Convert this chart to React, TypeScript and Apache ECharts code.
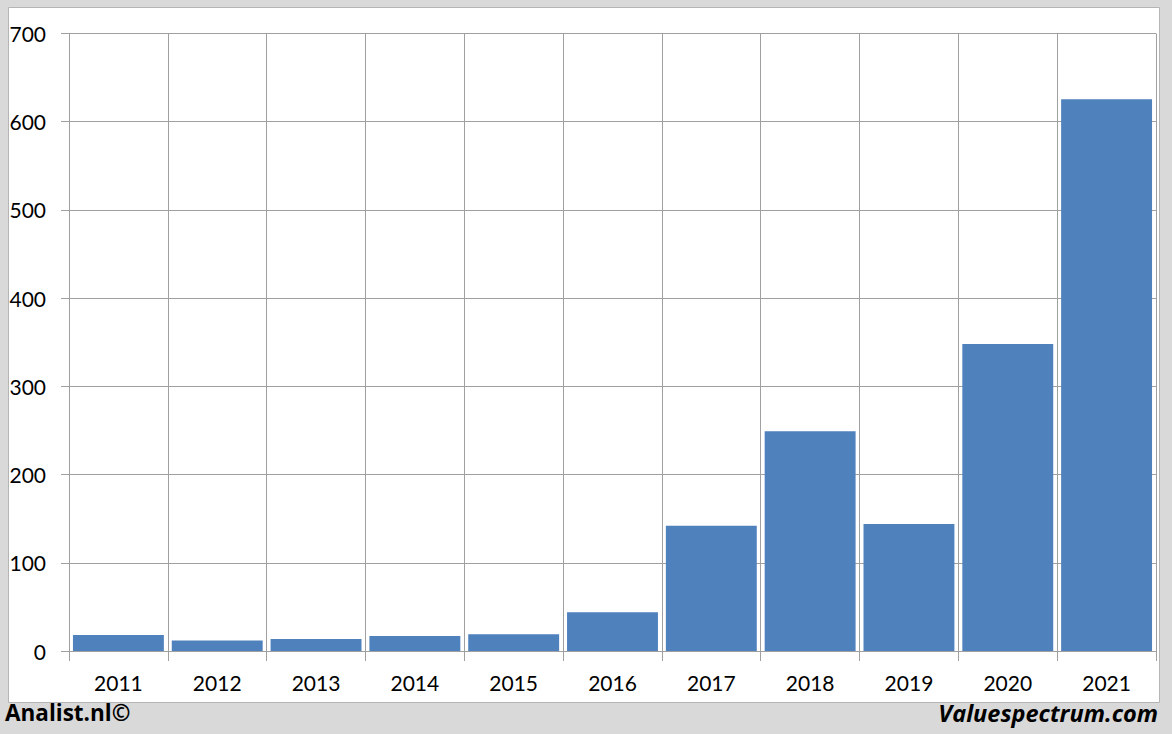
import React, { useEffect, useRef } from "react";
import * as echarts from "echarts";

const years = ["2011", "2012", "2013", "2014", "2015", "2016", "2017", "2018", "2019", "2020", "2021"];
const values = [18, 12, 13.5, 17, 19, 44, 142, 249, 144, 348, 625.5];
const yTicks = [0, 100, 200, 300, 400, 500, 600, 700];

const FONT = "Lato, 'Open Sans', sans-serif";
const FOOT = "'Open Sans', Lato, sans-serif";

export default function App() {
  const ref = useRef<HTMLDivElement>(null);
  useEffect(() => {
    if (!ref.current) return;
    const chart = echarts.init(ref.current, null, { renderer: "svg" });
    chart.setOption({
      animation: false,
      backgroundColor: "#d9d9d9",
      graphic: [
        {
          type: "rect",
          z: -10,
          shape: { x: 8.5, y: 7.5, width: 1151, height: 695 },
          style: { fill: "#ffffff", stroke: "#b5b5b5", lineWidth: 1 },
        },
        {
          type: "text",
          left: 5,
          top: 701,
          style: { text: "Analist.nl©", font: `bold 22.5px ${FOOT}`, fill: "#000" },
        },
        {
          type: "text",
          right: 14,
          top: 701,
          style: { text: "Valuespectrum.com", font: `italic bold 23.5px ${FOOT}`, fill: "#000" },
        },
      ],
      grid: { left: 69, right: 16, top: 33.5, bottom: 83, containLabel: false },
      xAxis: {
        type: "category",
        data: years,
        boundaryGap: true,
        axisLine: { show: true, lineStyle: { color: "#a0a0a0", width: 1 } },
        axisTick: { show: true, alignWithLabel: false, length: 10, lineStyle: { color: "#a0a0a0" } },
        splitLine: { show: true, lineStyle: { color: "#a0a0a0", width: 1 } },
        axisLabel: { color: "#000", fontSize: 21, fontFamily: FONT, margin: 21 },
      },
      yAxis: {
        type: "value",
        min: 0,
        max: 700,
        interval: 100,
        axisLine: { show: true, lineStyle: { color: "#a0a0a0", width: 1 } },
        axisTick: { show: true, length: 8, lineStyle: { color: "#a0a0a0" } },
        splitLine: { show: true, lineStyle: { color: "#a0a0a0", width: 1 } },
        axisLabel: {
          color: "#000",
          fontSize: 21,
          fontFamily: FONT,
          margin: 23,
          formatter: (v: number) => (yTicks.includes(v) ? String(v) : ""),
        },
      },
      series: [
        {
          type: "bar",
          data: values,
          barCategoryGap: "8%",
          itemStyle: { color: "#4f81bd" },
        },
      ],
    });
    return () => chart.dispose();
  }, []);
  return (
    <div
      ref={ref}
      style={{ position: "fixed", left: 0, top: 0, width: 1172, height: 734 }}
    />
  );
}
